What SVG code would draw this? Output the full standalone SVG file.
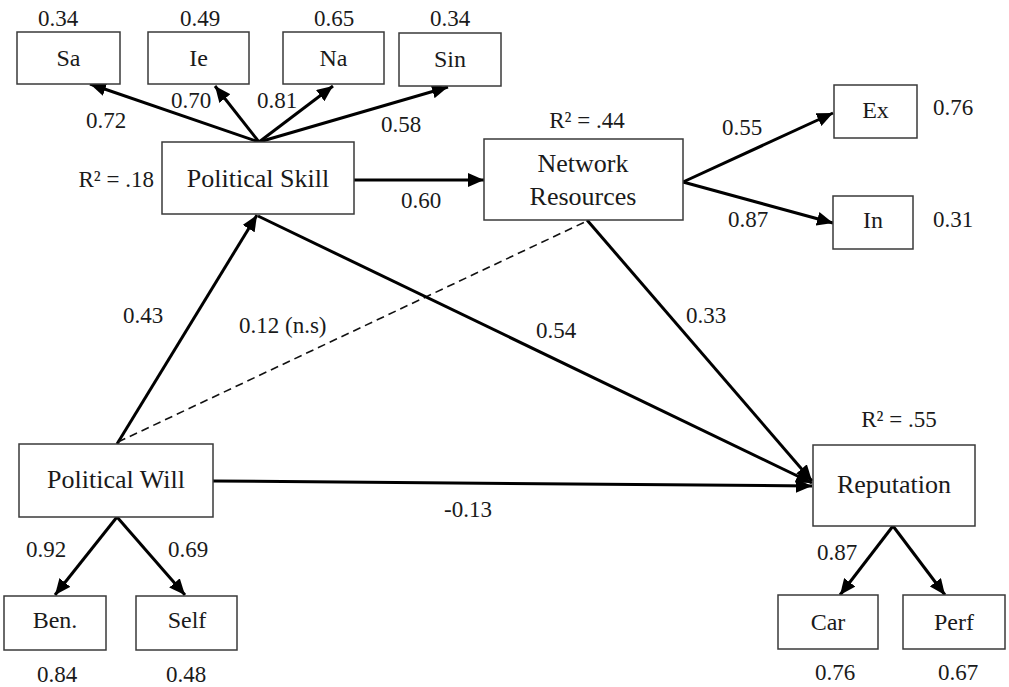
<svg xmlns="http://www.w3.org/2000/svg" width="1009" height="687" viewBox="0 0 1009 687">
<style>
.box{fill:#fff;stroke:#3a3a3a;stroke-width:1.5}
.lbl{font-family:"Liberation Serif","Times New Roman",serif;font-size:26px;fill:#1a1a1a;text-anchor:middle}
.sm{font-family:"Liberation Serif","Times New Roman",serif;font-size:24px;fill:#1a1a1a;text-anchor:middle}
.num{font-family:"Liberation Serif","Times New Roman",serif;font-size:23px;fill:#1a1a1a;text-anchor:middle}
.arr{stroke:#000;stroke-width:3;fill:none;marker-end:url(#ah)}
.dash{stroke:#111;stroke-width:1.6;fill:none;stroke-dasharray:8 5}
</style>
<defs>
<marker id="ah" markerUnits="userSpaceOnUse" markerWidth="17" markerHeight="14" refX="16" refY="7" orient="auto">
<path d="M0,0 L16,7 L0,14 z" fill="#000"/>
</marker>
</defs>
<rect width="1009" height="687" fill="#fff"/>

<g id="connectors">
<line class="arr" x1="259" y1="142" x2="90" y2="84"/>
<line class="arr" x1="259" y1="142" x2="215" y2="86"/>
<line class="arr" x1="259" y1="142" x2="333" y2="86"/>
<line class="arr" x1="259" y1="142" x2="448" y2="87"/>
<line class="arr" x1="354" y1="180" x2="484" y2="180"/>
<line class="arr" x1="683" y1="182" x2="833" y2="113"/>
<line class="arr" x1="683" y1="182" x2="833" y2="223"/>
<line class="arr" x1="117" y1="444" x2="257" y2="215"/>
<line class="dash" x1="118" y1="442" x2="587" y2="221"/>
<line class="arr" x1="258" y1="216" x2="812" y2="483"/>
<line class="arr" x1="587" y1="220" x2="812" y2="481"/>
<line class="arr" x1="213" y1="481" x2="812" y2="486"/>
<line class="arr" x1="117" y1="517" x2="55" y2="595"/>
<line class="arr" x1="117" y1="517" x2="185" y2="595"/>
<line class="arr" x1="893" y1="526" x2="840" y2="595"/>
<line class="arr" x1="893" y1="526" x2="945" y2="595"/>
</g>

<g id="sa"><rect class="box" x="17" y="32" width="103" height="52"/><text class="sm" x="68.5" y="66">Sa</text><text class="num" x="58" y="26">0.34</text></g>
<g id="ie"><rect class="box" x="148" y="32" width="101" height="52"/><text class="sm" x="198.5" y="66">Ie</text><text class="num" x="200" y="26">0.49</text></g>
<g id="na"><rect class="box" x="283" y="32" width="101" height="52"/><text class="sm" x="333.5" y="66">Na</text><text class="num" x="334" y="26">0.65</text></g>
<g id="sin"><rect class="box" x="399" y="33" width="102" height="53"/><text class="sm" x="450" y="67">Sin</text><text class="num" x="450" y="26">0.34</text></g>

<g id="political-skill"><rect class="box" x="162" y="142" width="192" height="72"/><text class="lbl" x="258" y="187">Political Skill</text><text class="num" x="154" y="187" style="text-anchor:end">R² = .18</text></g>

<g id="network-resources"><rect class="box" x="484" y="139" width="199" height="81"/><text class="lbl" x="583" y="172">Network</text><text class="lbl" x="583" y="205">Resources</text><text class="num" x="587" y="128">R² = .44</text></g>

<g id="ex"><rect class="box" x="834" y="85" width="83" height="53"/><text class="sm" x="875.5" y="118">Ex</text><text class="num" x="933" y="115" style="text-anchor:start">0.76</text></g>
<g id="in"><rect class="box" x="833" y="196" width="80" height="53"/><text class="sm" x="873" y="228">In</text><text class="num" x="933" y="227" style="text-anchor:start">0.31</text></g>

<g id="political-will"><rect class="box" x="19" y="444" width="194" height="73"/><text class="lbl" x="116" y="488">Political Will</text></g>
<g id="ben"><rect class="box" x="4" y="596" width="102" height="54"/><text class="sm" x="55" y="628">Ben.</text><text class="num" x="57" y="682">0.84</text></g>
<g id="self"><rect class="box" x="136" y="596" width="101" height="54"/><text class="sm" x="187" y="628">Self</text><text class="num" x="186" y="682">0.48</text></g>

<g id="reputation"><rect class="box" x="813" y="445" width="162" height="81"/><text class="lbl" x="894" y="493">Reputation</text><text class="num" x="899" y="427">R² = .55</text></g>
<g id="car"><rect class="box" x="778" y="595" width="100" height="54"/><text class="sm" x="828" y="630">Car</text><text class="num" x="835" y="680">0.76</text></g>
<g id="perf"><rect class="box" x="903" y="595" width="102" height="54"/><text class="sm" x="954" y="630">Perf</text><text class="num" x="958" y="680">0.67</text></g>

<g id="path-labels">
<text class="num" x="106" y="128">0.72</text>
<text class="num" x="191" y="108">0.70</text>
<text class="num" x="277" y="108">0.81</text>
<text class="num" x="401" y="132">0.58</text>
<text class="num" x="421" y="208">0.60</text>
<text class="num" x="742" y="135">0.55</text>
<text class="num" x="748" y="227">0.87</text>
<text class="num" x="143" y="323">0.43</text>
<text class="num" x="239" y="333" style="text-anchor:start">0.12 (n.s)</text>
<text class="num" x="556" y="338">0.54</text>
<text class="num" x="706" y="323">0.33</text>
<text class="num" x="468" y="517">-0.13</text>
<text class="num" x="46" y="557">0.92</text>
<text class="num" x="188" y="557">0.69</text>
<text class="num" x="837" y="560">0.87</text>
</g>
</svg>
